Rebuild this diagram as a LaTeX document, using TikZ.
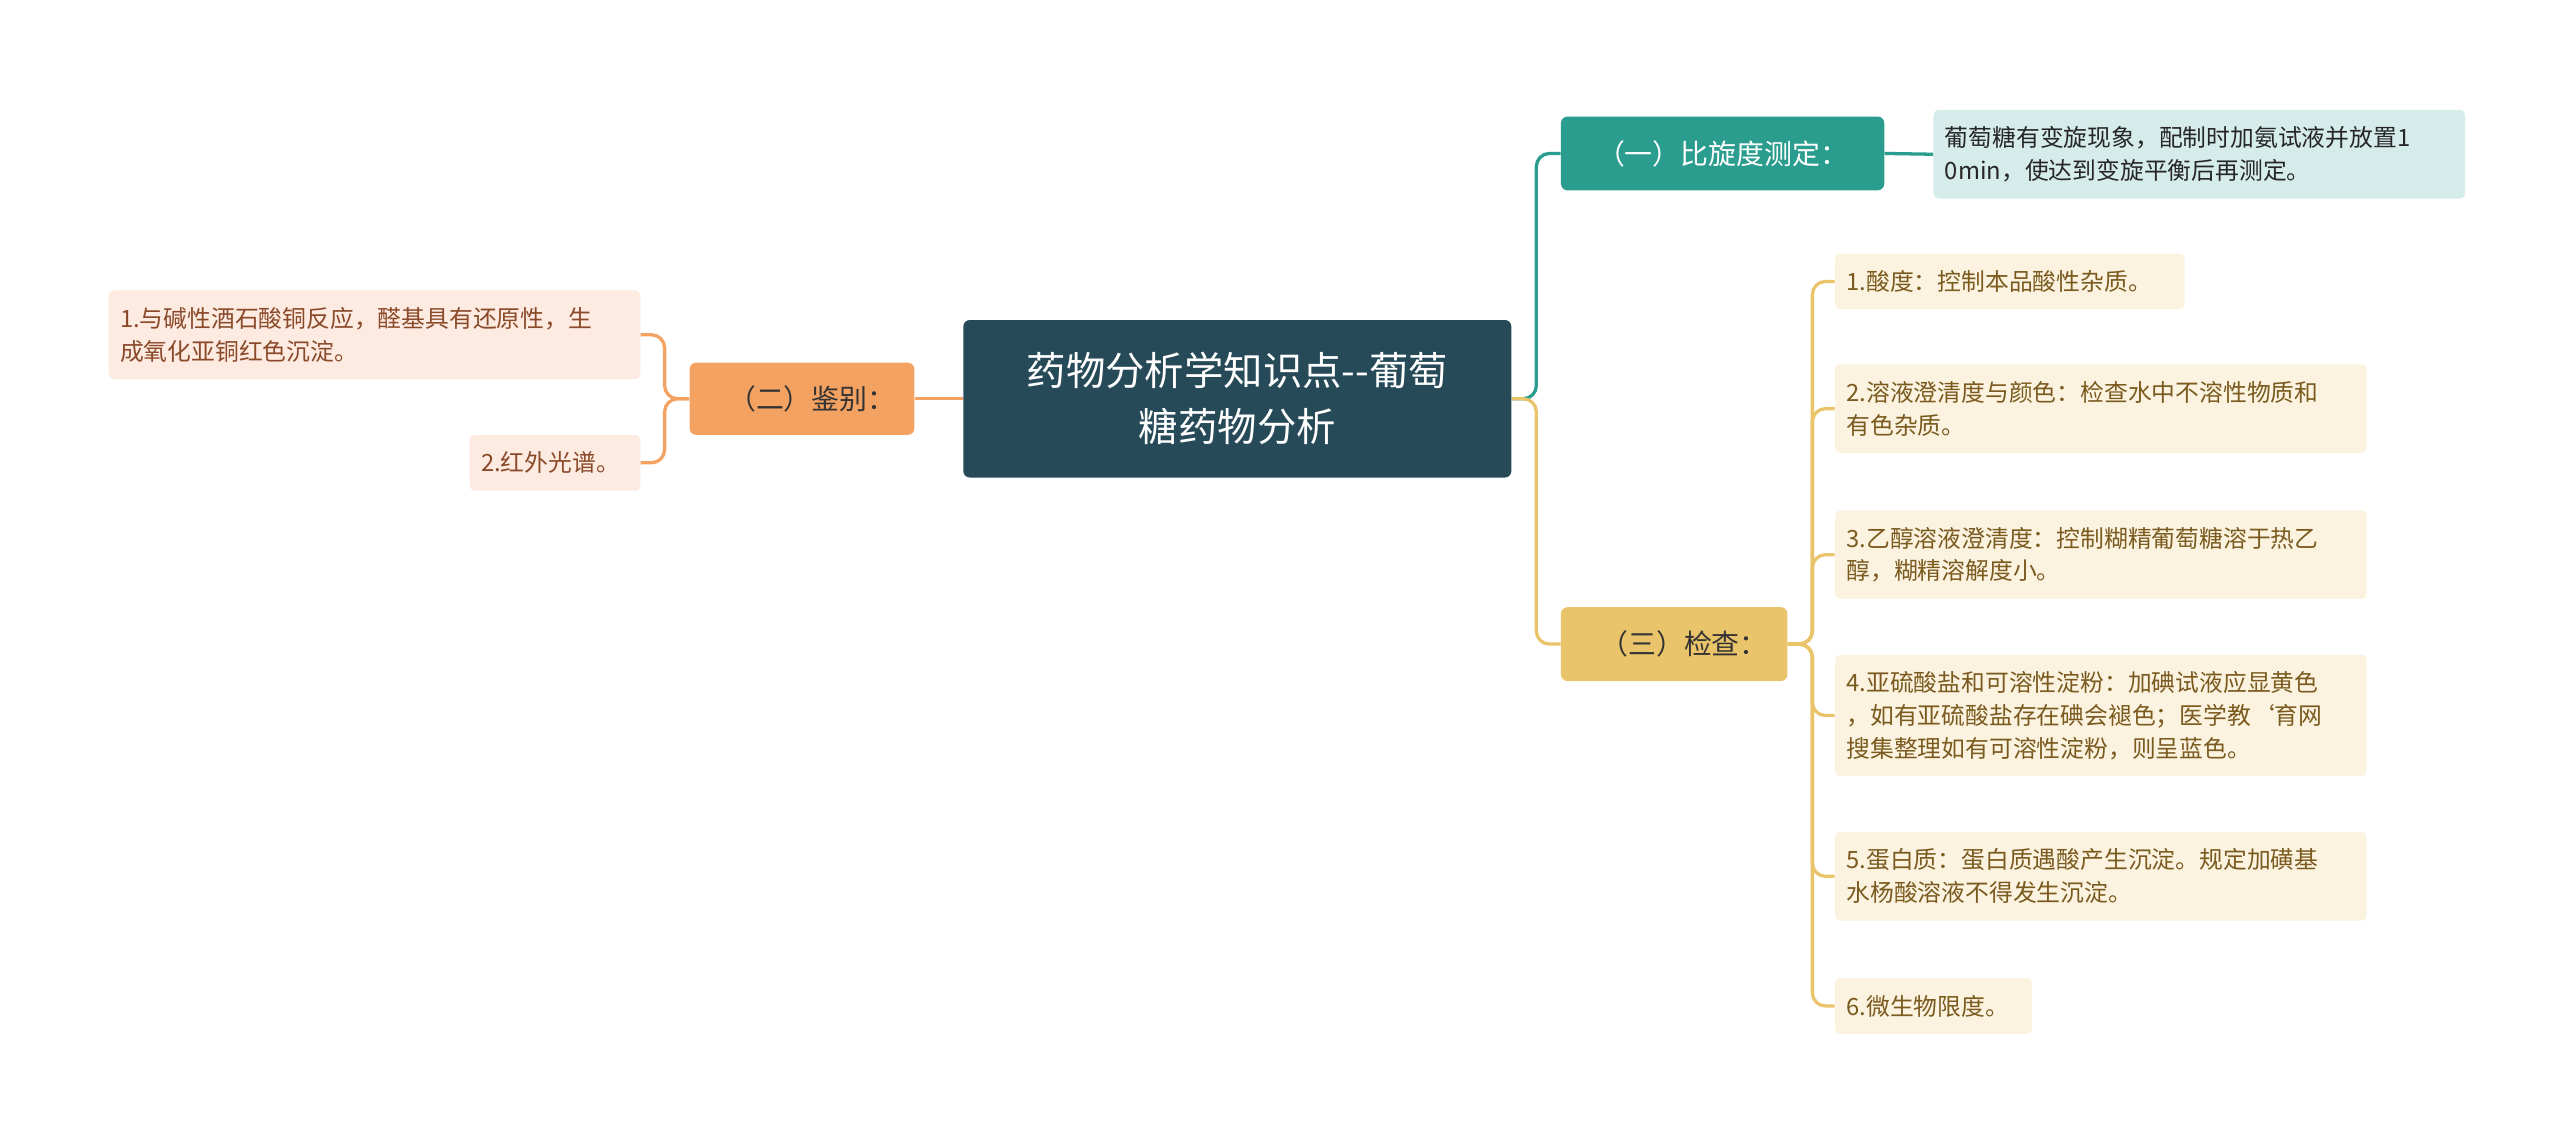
\documentclass[tikz,border=0pt]{standalone}
\usepackage{fontspec}
\setmainfont{Noto Sans CJK SC}
\XeTeXlinebreaklocale "zh"
\definecolor{rootc}{HTML}{264A58}
\definecolor{tealc}{HTML}{2A9D8F}
\definecolor{tealleaf}{HTML}{D6ECEA}
\definecolor{orc}{HTML}{F4A261}
\definecolor{orleaf}{HTML}{FDEAE0}
\definecolor{yec}{HTML}{E9C46A}
\definecolor{yeleaf}{HTML}{FBF3E0}
\definecolor{brtext}{HTML}{7A5A1E}
\definecolor{ortext}{HTML}{8A4A2A}
\tikzset{
 leafbox/.style={rounded corners=3bp, inner xsep=7bp, inner ysep=0bp, anchor=west, align=left, font=\fontsize{14.5bp}{20bp}\selectfont},
 branchbox/.style={rounded corners=4bp, anchor=west, inner sep=0bp, font=\fontsize{17bp}{22bp}\selectfont},
 conn/.style={line width=2bp, rounded corners=8bp}
}
\begin{document}
\begin{tikzpicture}[x=1bp,y=-1bp]
\useasboundingbox (0,0) rectangle (1560,693);
\node[fill=rootc, rounded corners=4bp, text=white, minimum width=334bp, minimum height=96bp, align=center, font=\fontsize{24bp}{34bp}\selectfont] (root) at (754,243) {药物分析学知识点{-}{-}葡萄\\糖药物分析};
% branch 1
\node[branchbox, fill=tealc, text=white, minimum width=197bp, minimum height=45bp] (b1) at (951,93.5) {（一）比旋度测定：};
\node[leafbox, fill=tealleaf, text=black!85, text width=310bp, minimum height=54bp] (t1) at (1178,94) {葡萄糖有变旋现象，配制时加氨试液并放置1\\0min，使达到变旋平衡后再测定。};
% branch 2
\node[branchbox, fill=orc, text=black!80, minimum width=137bp, minimum height=44bp] (b2) at (420,243) {\hspace*{12bp}（二）鉴别：};
\node[leafbox, fill=orleaf, text=ortext, text width=310bp, minimum height=54bp] (o1) at (66,204) {1.与碱性酒石酸铜反应，醛基具有还原性，生\\成氧化亚铜红色沉淀。};
\node[leafbox, fill=orleaf, text=ortext, text width=90bp, minimum height=34bp] (o2) at (286,282) {2.红外光谱。};
% branch 3
\node[branchbox, fill=yec, text=black!80, minimum width=138bp, minimum height=45bp] (b3) at (951,392.5) {\hspace*{12bp}（三）检查：};
\node[leafbox, fill=yeleaf, text=brtext, text width=199bp, minimum height=34bp] (y1) at (1118,171.5) {1.酸度：控制本品酸性杂质。};
\node[leafbox, fill=yeleaf, text=brtext, text width=310bp, minimum height=54bp] (y2) at (1118,249) {2.溶液澄清度与颜色：检查水中不溶性物质和\\有色杂质。};
\node[leafbox, fill=yeleaf, text=brtext, text width=310bp, minimum height=54bp] (y3) at (1118,338) {3.乙醇溶液澄清度：控制糊精葡萄糖溶于热乙\\醇，糊精溶解度小。};
\node[leafbox, fill=yeleaf, text=brtext, text width=310bp, minimum height=74bp] (y4) at (1118,436) {4.亚硫酸盐和可溶性淀粉：加碘试液应显黄色\\，如有亚硫酸盐存在碘会褪色；医学教{\char96}育网\\搜集整理如有可溶性淀粉，则呈蓝色。};
\node[leafbox, fill=yeleaf, text=brtext, text width=310bp, minimum height=54bp] (y5) at (1118,534) {5.蛋白质：蛋白质遇酸产生沉淀。规定加磺基\\水杨酸溶液不得发生沉淀。};
\node[leafbox, fill=yeleaf, text=brtext, text width=106bp, minimum height=34bp] (y6) at (1118,613) {6.微生物限度。};
% connectors
\draw[conn, tealc] (root.east) -- ++(15,0) |- (b1.west);
\draw[conn, yec] (root.east) -- ++(15,0) |- (b3.west);
\draw[conn, orc] (root.west) -- (b2.east);
\draw[conn, tealc] (b1.east) -- (t1.west);
\foreach \n in {o1,o2}{\draw[conn, orc] (b2.west) -- ++(-15,0) |- (\n.east);}
\foreach \n in {y1,y2,y3,y4,y5,y6}{\draw[conn, yec] (b3.east) -- ++(15,0) |- (\n.west);}
\end{tikzpicture}
\end{document}
